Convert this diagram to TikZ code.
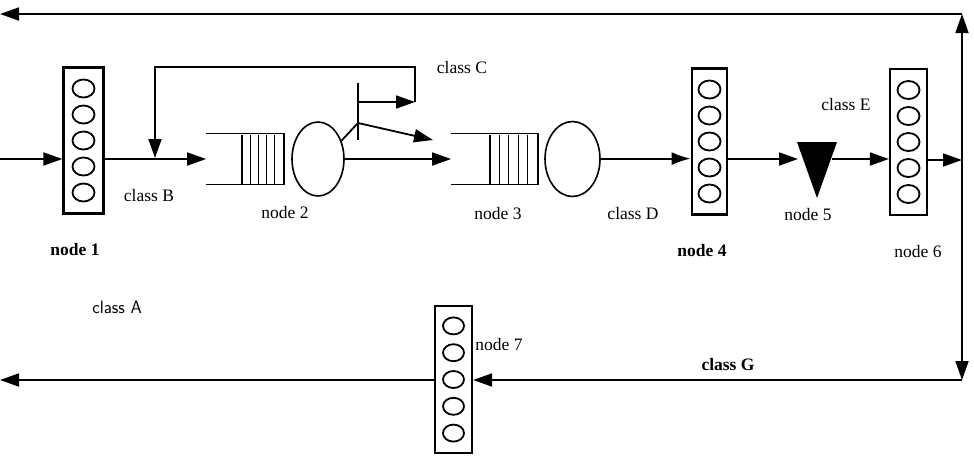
\documentclass[tikz,border=0pt]{standalone}
\usepackage{fontspec}
\setmainfont{Liberation Serif}
\usetikzlibrary{arrows.meta,shapes.geometric}
\begin{document}
\begin{tikzpicture}[x=1pt,y=-1pt,
  line width=1.8pt,
  arr/.style={-{Triangle[length=19pt,width=13pt]}},
  stackbox/.style={draw,line width=2.2pt,rectangle,minimum height=146pt,inner sep=0pt},
  server/.style={draw,ellipse,line width=1.6pt,inner sep=0pt},
  lbl/.style={font=\fontsize{17.5}{20}\selectfont,inner sep=0pt},
  blbl/.style={font=\fontsize{17.5}{20}\selectfont\bfseries,inner sep=0pt},
  qbox/.style={rectangle,inner sep=0pt,minimum height=49pt}
]
\useasboundingbox (0,0) rectangle (974,464);

% multi-server stations
\node[stackbox,minimum width=40pt] (n1) at (83.5,140.5) {};
\node[stackbox,minimum width=35pt] (n4) at (709.5,141.5) {};
\node[stackbox,minimum width=37pt] (n6) at (908.5,142) {};
\node[stackbox,minimum width=37pt,minimum height=147pt] (n7) at (453.5,379.5) {};
\foreach \n in {n1,n4,n6}{
  \foreach \k in {-2,...,2}{
    \draw[line width=1.8pt] (\n.center) ++(0,\k*26) ellipse [x radius=11pt, y radius=9pt];
  }
}
\foreach \k in {-2,...,2}{
  \draw[line width=1.8pt] (n7.center) ++(0,\k*26.8) ellipse [x radius=10.5pt, y radius=8.5pt];
}

% queues
\node[qbox,minimum width=76pt] (q2) at (245,159) {};
\draw[line width=1.6pt] (q2.north west) -- (q2.north east) -- (q2.south east) -- (q2.south west);
\foreach \xx in {242,250.2,258.4,266.6,274.8}{
  \draw[line width=1.3pt] (\xx,134.5) -- (\xx,183.5);
}
\node[server,minimum width=52pt,minimum height=74pt] (s2) at (318,159) {};

\node[qbox,minimum width=85pt] (q3) at (494.5,159) {};
\draw[line width=1.6pt] (q3.north west) -- (q3.north east) -- (q3.south east) -- (q3.south west);
\foreach \xx in {490,499.4,508.8,518.2,527.6}{
  \draw[line width=1.3pt] (\xx,134.5) -- (\xx,183.5);
}
\node[server,minimum width=55pt,minimum height=75pt] (s3) at (572.5,159) {};

% node 5 (fork/triangle)
\fill (797,142) -- (837,142) -- (817,198) -- cycle;
\coordinate (t5in) at (798,159);
\coordinate (t5out) at (832,159);

% switch bar
\coordinate (barT) at (358,83);
\coordinate (barB) at (358,140);
\draw[line width=2.4pt] (barT) -- (barB);
\coordinate (sw) at (358,123);
\coordinate (swtip) at (433,140);
\coordinate (cb) at (358,102);
\coordinate (cc) at (415,102);
\coordinate (cl) at (155,67);
\coordinate (cj) at (155,158);

% coordinates of outer loop
\coordinate (inL) at (0,159);
\coordinate (R) at (962,160);
\coordinate (RT) at (962,14);
\coordinate (LT) at (0,14);
\coordinate (RB) at (962,380);
\coordinate (LB) at (0,380);
\coordinate (s3out) at (600.5,158.6);
\coordinate (n4in) at (690.6,158.6);

% connectors
\draw[arr] (inL) -- (inL -| n1.west);
\draw[arr] (n1.east |- q2.west) -- (q2.west);
\draw (s2.38) -- (sw);
\draw[arr] (sw) -- (swtip);
\draw[arr] (cb) -- (cc);
\draw[arr] (cc) |- (cl) -- (cj);
\draw[arr] (s2.east) -- (s2.east -| q3.west);
\draw[-{Latex[length=19pt,width=13pt]}] (s3out) -- (n4in);
\draw[arr] (n4.east |- t5in) -- (t5in);
\draw[arr] (t5out) -- (t5out -| n6.west);
\draw[arr] (n6.east |- R) -- (R);
\draw[arr] (R) -- (RT);
\draw[arr] (RT) -- (LT);
\draw[arr] (R) -- (RB);
\draw[arr] (RB) -- (RB -| n7.east);
\draw[arr] (n7.west |- RB) -- (LB);

% labels
\node[lbl] (lC) at (462,68) {class C};
\node[lbl] (lB) at (149,196) {class B};
\node[lbl] (l2) at (285,213) {node 2};
\node[blbl] (l1) at (75,250) {node 1};
\node[lbl] (l3) at (498,214) {node 3};
\node[lbl] (lD) at (633,214) {class D};
\node[blbl] (l4) at (702,251) {node 4};
\node[lbl] (l5) at (808,215) {node 5};
\node[lbl] (lE) at (846,105) {class E};
\node[lbl] (l6) at (918,252) {node 6};
\node[lbl,font=\fontsize{18}{20}\selectfont\sffamily] (lA) at (117,307) {class A};
\node[lbl] (l7) at (499,345) {node 7};
\node[blbl] (lG) at (728,365) {class G};
\end{tikzpicture}
\end{document}
